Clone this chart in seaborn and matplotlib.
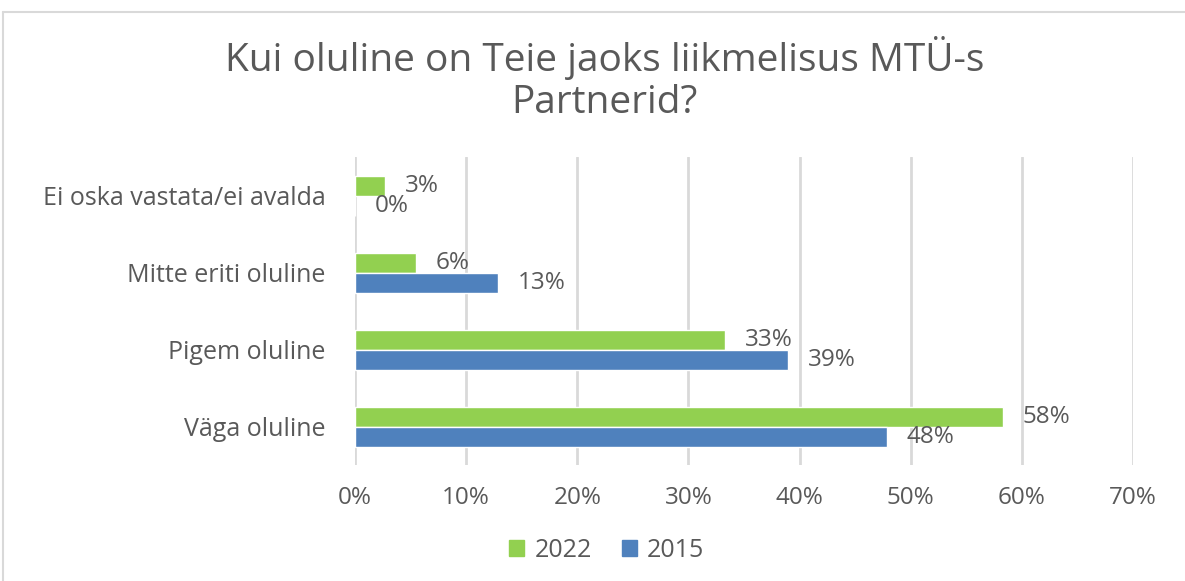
import pandas as pd
import matplotlib
matplotlib.use("Agg")
import matplotlib.pyplot as plt
from matplotlib.lines import Line2D
import seaborn as sns

# Andmed
categories = ["Ei oska vastata/ei avalda", "Mitte eriti oluline", "Pigem oluline", "Väga oluline"]
years = ["2022", "2015"]
values_2022 = [2.7, 5.5, 33.3, 58.3]
values_2015 = [0.0, 12.9, 39.0, 47.9]
labels_2022 = ["3%", "6%", "33%", "58%"]
labels_2015 = ["0%", "13%", "39%", "48%"]
xticks = [0, 10, 20, 30, 40, 50, 60, 70]

df = pd.DataFrame({
    "kategooria": categories * 2,
    "aasta": ["2022"] * 4 + ["2015"] * 4,
    "protsent": values_2022 + values_2015,
})

sns.set_theme(style="white")
plt.rcParams["font.family"] = ["Open Sans", "DejaVu Sans"]
grey = "#595959"

fig = plt.figure(figsize=(11.85, 5.81), dpi=100)
ax = fig.add_axes([0.2996, 0.199, 0.6565, 0.530])

sns.barplot(data=df, y="kategooria", x="protsent", hue="aasta", order=categories,
            hue_order=years, palette={"2022": "#92D050", "2015": "#4F81BD"},
            orient="h", width=0.52, saturation=1, ax=ax, legend=False)

for container, labs in zip(ax.containers, [labels_2022, labels_2015]):
    ax.bar_label(container, labels=labs, padding=14, fontsize=17.5, color=grey)

ax.set_xlim(0, 70)
ax.set_xticks(xticks)
ax.set_xticklabels([f"{t}%" for t in xticks], fontsize=17.5, color=grey)
ax.tick_params(axis="x", pad=15, length=0)
ax.tick_params(axis="y", pad=21, length=0, labelsize=18, labelcolor=grey)
ax.xaxis.grid(True, color="#D9D9D9", linewidth=2)
ax.set_axisbelow(True)
for s in ax.spines.values():
    s.set_visible(False)
ax.set_xlabel("")
ax.set_ylabel("")

fig.text(0.51, 0.900, "Kui oluline on Teie jaoks liikmelisus MTÜ-s", ha="center", va="center",
         fontsize=28, color=grey)
fig.text(0.51, 0.822, "Partnerid?", ha="center", va="center", fontsize=28, color=grey)

handles = [plt.Rectangle((0, 0), 1, 1, color="#92D050"), plt.Rectangle((0, 0), 1, 1, color="#4F81BD")]
fig.legend(handles, years, loc="center", bbox_to_anchor=(0.512, 0.053), ncol=2, frameon=False,
           fontsize=18, labelcolor=grey, handlelength=0.6, handleheight=0.6, handletextpad=0.4,
           columnspacing=1.2)

# rammi jooned
fig.add_artist(Line2D([3 / 1185, 3 / 1185], [0, 1 - 12 / 581], color="#D9D9D9", linewidth=1.5))
fig.add_artist(Line2D([3 / 1185, 1], [1 - 12 / 581, 1 - 12 / 581], color="#D9D9D9", linewidth=1.5))

fig.savefig("out.png", dpi=100)
